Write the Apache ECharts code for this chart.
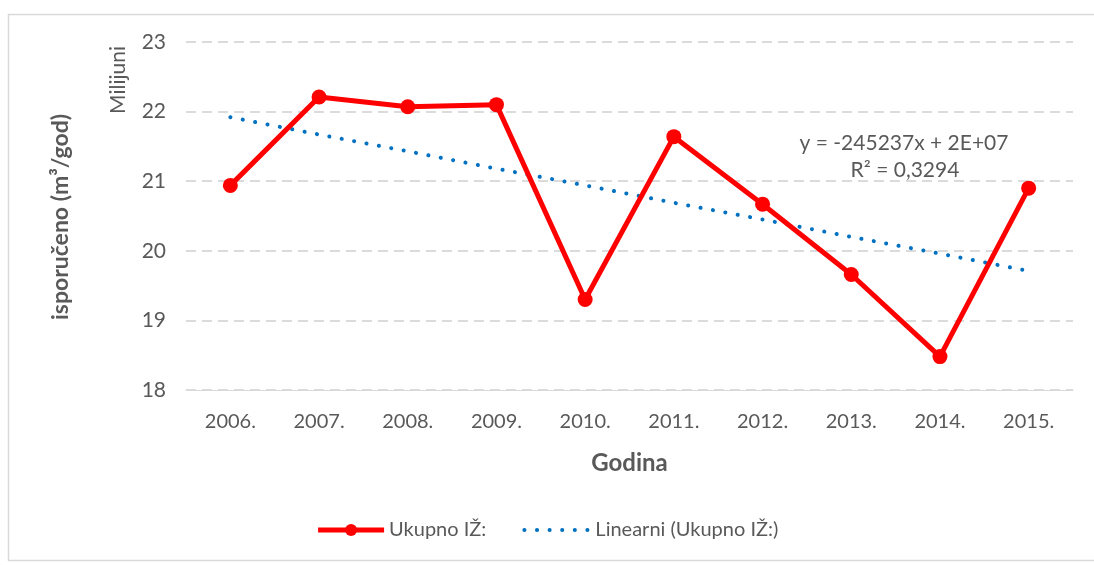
<!DOCTYPE html>
<html>
<head>
<meta charset="utf-8">
<script src="https://cdn.jsdelivr.net/npm/echarts@6/dist/echarts.min.js"></script>
<style>
  html, body { margin: 0; padding: 0; background: #fff; }
  #main { width: 1094px; height: 565px; }
</style>
</head>
<body>
<div id="main"></div>
<script>
// godine
var godine = ['2006.', '2007.', '2008.', '2009.', '2010.', '2011.', '2012.', '2013.', '2014.', '2015.'];
// isporuceno, milijuni m3/god
var ukupnoIZ = [20.94, 22.21, 22.07, 22.10, 19.30, 21.64, 20.67, 19.66, 18.48, 20.90];
// linearni trend (procitano sa slike)
var linearni = [21.92, 21.67, 21.43, 21.18, 20.94, 20.69, 20.45, 20.20, 19.96, 19.71];
var yTicks = [18, 19, 20, 21, 22, 23];

var font = 'Lato, "Open Sans", sans-serif';
var siva = '#595959';
var myChart = echarts.init(document.getElementById('main'));

var option = {
  backgroundColor: '#fff',
  textStyle: { fontFamily: font },
  grid: { left: 186, right: 21, top: 42, bottom: 175 },
  legend: {
    bottom: 20,
    left: 'center',
    itemGap: 36,
    itemWidth: 66,
    itemHeight: 15,
    textStyle: { fontSize: 20, color: siva, fontFamily: font },
    data: [
      { name: 'Ukupno IŽ:', lineStyle: { width: 5 } },
      { name: 'Linearni (Ukupno IŽ:)', itemStyle: { opacity: 0 }, lineStyle: { width: 4 } }
    ]
  },
  xAxis: {
    type: 'category',
    data: godine,
    boundaryGap: true,
    name: 'Godina',
    nameLocation: 'middle',
    nameGap: 61,
    nameTextStyle: { fontSize: 24, fontWeight: 'bold', color: siva },
    axisLine: { lineStyle: { color: '#d9d9d9' } },
    axisTick: { show: false },
    axisLabel: { fontSize: 20, color: siva, margin: 22 }
  },
  yAxis: {
    type: 'value',
    min: yTicks[0],
    max: yTicks[yTicks.length - 1],
    interval: 1,
    axisLine: { show: false },
    axisTick: { show: false },
    axisLabel: { fontSize: 21, color: siva, margin: 20 },
    splitLine: { lineStyle: { color: '#d0d0d0', type: [10, 6], width: 1.5 } }
  },
  graphic: [
    {
      type: 'rect',
      shape: { x: 8.5, y: 14.5, width: 1100, height: 546 },
      style: { fill: 'none', stroke: '#d9d9d9', lineWidth: 1.5 },
      silent: true
    },
    {
      type: 'text',
      x: 61, y: 217,
      rotation: Math.PI / 2,
      style: {
        text: 'isporučeno (m³/god)',
        fontSize: 23, fontWeight: 'bold', fill: siva,
        fontFamily: font, align: 'center', verticalAlign: 'middle'
      }
    },
    {
      type: 'text',
      x: 118, y: 80,
      rotation: Math.PI / 2,
      style: {
        text: 'Milijuni',
        fontSize: 21, fill: siva,
        fontFamily: font, align: 'center', verticalAlign: 'middle'
      }
    },
    {
      type: 'text',
      x: 904, y: 143,
      style: {
        text: 'y = -245237x + 2E+07',
        fontSize: 21, fill: siva,
        fontFamily: font, align: 'center', verticalAlign: 'middle'
      }
    },
    {
      type: 'text',
      x: 905, y: 170,
      style: {
        text: 'R² = 0,3294',
        fontSize: 21, fill: siva,
        fontFamily: font, align: 'center', verticalAlign: 'middle'
      }
    }
  ],
  series: [
    {
      name: 'Linearni (Ukupno IŽ:)',
      type: 'line',
      data: linearni,
      symbol: 'none',
      z: 2,
      itemStyle: { color: '#0070c0' },
      lineStyle: { color: '#0070c0', width: 4, type: [0.1, 12.5], cap: 'round' }
    },
    {
      name: 'Ukupno IŽ:',
      type: 'line',
      data: ukupnoIZ,
      symbol: 'circle',
      symbolSize: 15,
      z: 3,
      itemStyle: { color: '#ff0000' },
      lineStyle: { color: '#ff0000', width: 5 }
    }
  ]
};
myChart.setOption(option);
</script>
</body>
</html>
